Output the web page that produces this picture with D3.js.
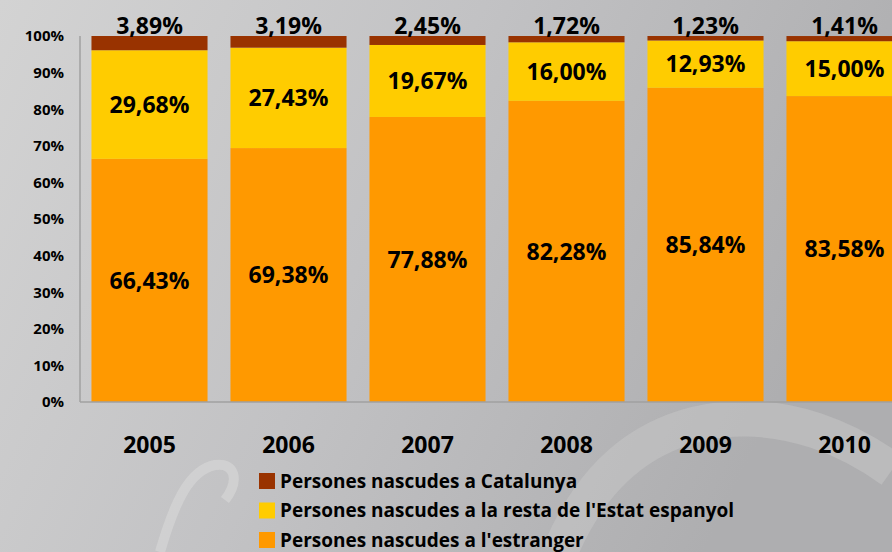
<!DOCTYPE html>
<html>
<head>
<meta charset="utf-8">
<script src="https://cdn.jsdelivr.net/npm/d3@7"></script>
<style>
  html, body { margin: 0; padding: 0; overflow: hidden; }
  text { font-family: "Open Sans", "Liberation Sans", sans-serif; font-weight: bold; fill: #000; }
</style>
</head>
<body>
<div id="chart"></div>
<script>
var years = ["2005", "2006", "2007", "2008", "2009", "2010"];
var catalunya = [3.89, 3.19, 2.45, 1.72, 1.23, 1.41];
var restaEstat = [29.68, 27.43, 19.67, 16.00, 12.93, 15.00];
var estranger = [66.43, 69.38, 77.88, 82.28, 85.84, 83.58];
var seriesNames = [
  "Persones nascudes a Catalunya",
  "Persones nascudes a la resta de l'Estat espanyol",
  "Persones nascudes a l'estranger"
];
var yTicks = [0, 10, 20, 30, 40, 50, 60, 70, 80, 90, 100];

var W = 892, H = 552;
var margin = { top: 36, left: 80, bottom: 150 };
var colors = {
  estranger: "#ff9900",
  resta: "#ffcc00",
  catalunya: "#993300"
};

var svg = d3.select("#chart").append("svg")
  .attr("width", W)
  .attr("height", H);

// grey background
var defs = svg.append("defs");
var grad = defs.append("linearGradient")
  .attr("id", "bg")
  .attr("x1", "0").attr("y1", "0")
  .attr("x2", "1").attr("y2", "0.3");
grad.append("stop").attr("offset", "0").attr("stop-color", "#d3d3d3");
grad.append("stop").attr("offset", "0.5").attr("stop-color", "#c2c2c4");
grad.append("stop").attr("offset", "1").attr("stop-color", "#aeaeb0");
svg.append("rect").attr("width", W).attr("height", H).attr("fill", "url(#bg)");

// faint watermark curves
svg.append("path")
  .attr("d", "M160,552 C175,500 190,470 215,465 C235,462 240,480 225,500")
  .attr("fill", "none").attr("stroke", "#d6d6d6").attr("stroke-width", 10)
  .attr("opacity", 0.7);
svg.append("path")
  .attr("d", "M560,552 C590,480 640,430 720,420 C790,412 850,440 892,470")
  .attr("fill", "none").attr("stroke", "#c8c8c8").attr("stroke-width", 36)
  .attr("opacity", 0.5);

var x = d3.scaleBand()
  .domain(years)
  .range([margin.left, margin.left + 6 * 139])
  .paddingInner(0.165)
  .paddingOuter(0.0825);

var y = d3.scaleLinear()
  .domain([0, 100])
  .range([402, margin.top]);

var rows = years.map(function (yr, i) {
  return { year: yr, estranger: estranger[i], resta: restaEstat[i], catalunya: catalunya[i] };
});
var keys = ["estranger", "resta", "catalunya"];
var stacked = d3.stack().keys(keys)(rows);

var layers = svg.append("g").selectAll("g")
  .data(stacked)
  .join("g")
  .attr("fill", function (d) { return colors[d.key]; });

layers.selectAll("rect")
  .data(function (d) { return d; })
  .join("rect")
  .attr("x", function (d) { return x(d.data.year); })
  .attr("y", function (d) { return y(d[1]); })
  .attr("width", x.bandwidth())
  .attr("height", function (d) { return y(d[0]) - y(d[1]); });

// axes lines
svg.append("line")
  .attr("x1", margin.left).attr("x2", margin.left)
  .attr("y1", y(100)).attr("y2", y(0))
  .attr("stroke", "#a0a0a0").attr("stroke-width", 1.5);
svg.append("line")
  .attr("x1", margin.left).attr("x2", W)
  .attr("y1", y(0)).attr("y2", y(0))
  .attr("stroke", "#a0a0a0").attr("stroke-width", 1.5);

// y tick labels
svg.append("g").selectAll("text")
  .data(yTicks)
  .join("text")
  .attr("x", 64)
  .attr("y", function (d) { return y(d); })
  .attr("dy", "0.36em")
  .attr("text-anchor", "end")
  .style("font-size", "15px")
  .text(function (d) { return d + "%"; });

// year labels
svg.append("g").selectAll("text")
  .data(years)
  .join("text")
  .attr("x", function (d) { return x(d) + x.bandwidth() / 2; })
  .attr("y", 453)
  .attr("text-anchor", "middle")
  .style("font-size", "23px")
  .text(function (d) { return d; });

// data labels
function fmt(v) { return v.toFixed(2).replace(".", ",") + "%"; }

stacked.forEach(function (layer) {
  svg.append("g").selectAll("text")
    .data(layer)
    .join("text")
    .attr("x", function (d) { return x(d.data.year) + x.bandwidth() / 2; })
    .attr("y", function (d) {
      if (layer.key === "catalunya") return y(100) - 10;
      return (y(d[0]) + y(d[1])) / 2;
    })
    .attr("dy", "0.36em")
    .attr("text-anchor", "middle")
    .style("font-size", "23px")
    .text(function (d) { return fmt(d.data[layer.key]); });
});

// legend
var legendColors = [colors.catalunya, colors.resta, colors.estranger];
var legend = svg.append("g").selectAll("g")
  .data(seriesNames)
  .join("g")
  .attr("transform", function (d, i) { return "translate(259," + (473 + i * 29.5) + ")"; });
legend.append("rect")
  .attr("width", 16).attr("height", 16)
  .attr("fill", function (d, i) { return legendColors[i]; });
legend.append("text")
  .attr("x", 21)
  .attr("y", 8)
  .attr("dy", "0.36em")
  .style("font-size", "19px")
  .text(function (d) { return d; });
</script>
</body>
</html>
